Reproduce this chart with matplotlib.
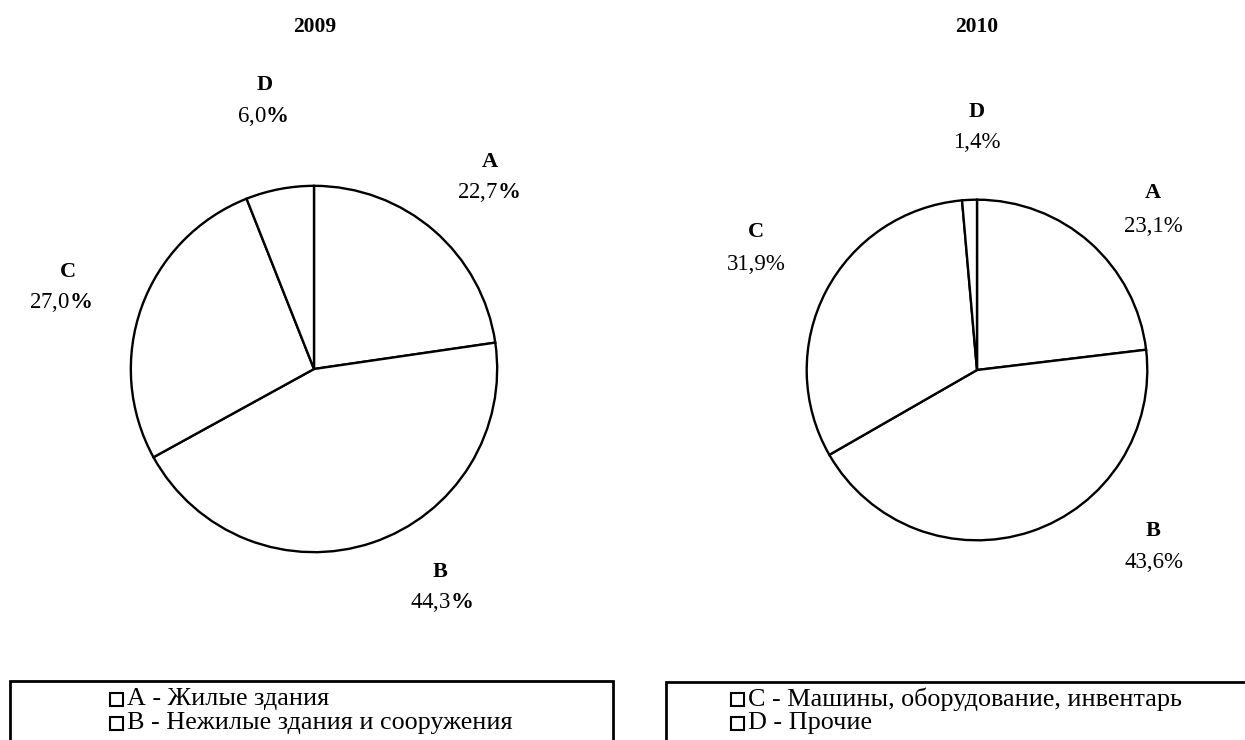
import matplotlib.pyplot as plt
from matplotlib.patches import Rectangle

plt.rcParams['font.family'] = ['Liberation Serif', 'DejaVu Serif']
plt.rcParams['mathtext.fontset'] = 'custom'
plt.rcParams['mathtext.rm'] = 'Liberation Serif'
plt.rcParams['mathtext.bf'] = 'Liberation Serif:bold'

# data
letters = ['A', 'B', 'C', 'D']
values_2009 = [22.7, 44.3, 27.0, 6.0]
values_2010 = [23.1, 43.6, 31.9, 1.4]
legend_left = ['А - Жилые здания', 'В - Нежилые здания и сооружения']
legend_right = ['С - Машины, оборудование, инвентарь', 'D - Прочие']

W, H = 1245, 740
fig = plt.figure(figsize=(W / 100, H / 100), dpi=100)


def px(x, y):
    return x / W, 1 - y / H


def draw_pie(cx, cy, r, values):
    ax = fig.add_axes([(cx - r) / W, (H - cy - r) / H, 2 * r / W, 2 * r / H])
    ax.pie(values, startangle=90, counterclock=False, colors=['white'] * len(values),
           wedgeprops=dict(edgecolor='black', linewidth=1.7))
    ax.set_xlim(-1.01, 1.01)
    ax.set_ylim(-1.01, 1.01)
    ax.set_aspect('equal')
    ax.axis('off')


def fmt(v, bold_pct):
    s = ('%.1f' % v).replace('.', ',')
    return s + (r'$\mathbf{\%}$' if bold_pct else '%')


draw_pie(314, 369, 185, values_2009)
draw_pie(977, 370, 172, values_2010)

fig.text(*px(315, 27), '2009', ha='center', va='center', fontsize=15.5, fontweight='bold')
fig.text(*px(977, 27), '2010', ha='center', va='center', fontsize=15.5, fontweight='bold')

# label positions (letter line, value line)
pos_2009 = [(490, 162, 488, 193), (440, 572, 441, 603), (68, 272, 60, 302), (265, 85, 263, 116)]
pos_2010 = [(1153, 193, 1153, 226), (1153, 531, 1154, 563), (756, 232, 756, 264), (977, 112, 977, 142)]

for letter, v, p in zip(letters, values_2009, pos_2009):
    fig.text(*px(p[0], p[1]), letter, ha='center', va='center', fontsize=16, fontweight='bold')
    fig.text(*px(p[2], p[3]), fmt(v, True), ha='center', va='center', fontsize=16.5)
for letter, v, p in zip(letters, values_2010, pos_2010):
    fig.text(*px(p[0], p[1]), letter, ha='center', va='center', fontsize=16, fontweight='bold')
    fig.text(*px(p[2], p[3]), fmt(v, False), ha='center', va='center', fontsize=16.5)

# legend boxes
for x0, x1, top in [(10, 613, 681), (666, 1260, 682)]:
    fig.patches.append(Rectangle(px(x0, 760), (x1 - x0) / W, (760 - top) / H,
                                 transform=fig.transFigure, fill=False,
                                 edgecolor='black', linewidth=2))

for x, labels in [(110, legend_left), (731, legend_right)]:
    for i, lab in enumerate(labels):
        y = 699 + i * 24.5
        fig.patches.append(Rectangle(px(x, y + 6.5), 13 / W, 13 / H,
                                     transform=fig.transFigure, fill=False,
                                     edgecolor='black', linewidth=1.5))
        fig.text(*px(x + 17, y), lab, ha='left', va='center', fontsize=18.8)

fig.savefig('out.png', dpi=100)
